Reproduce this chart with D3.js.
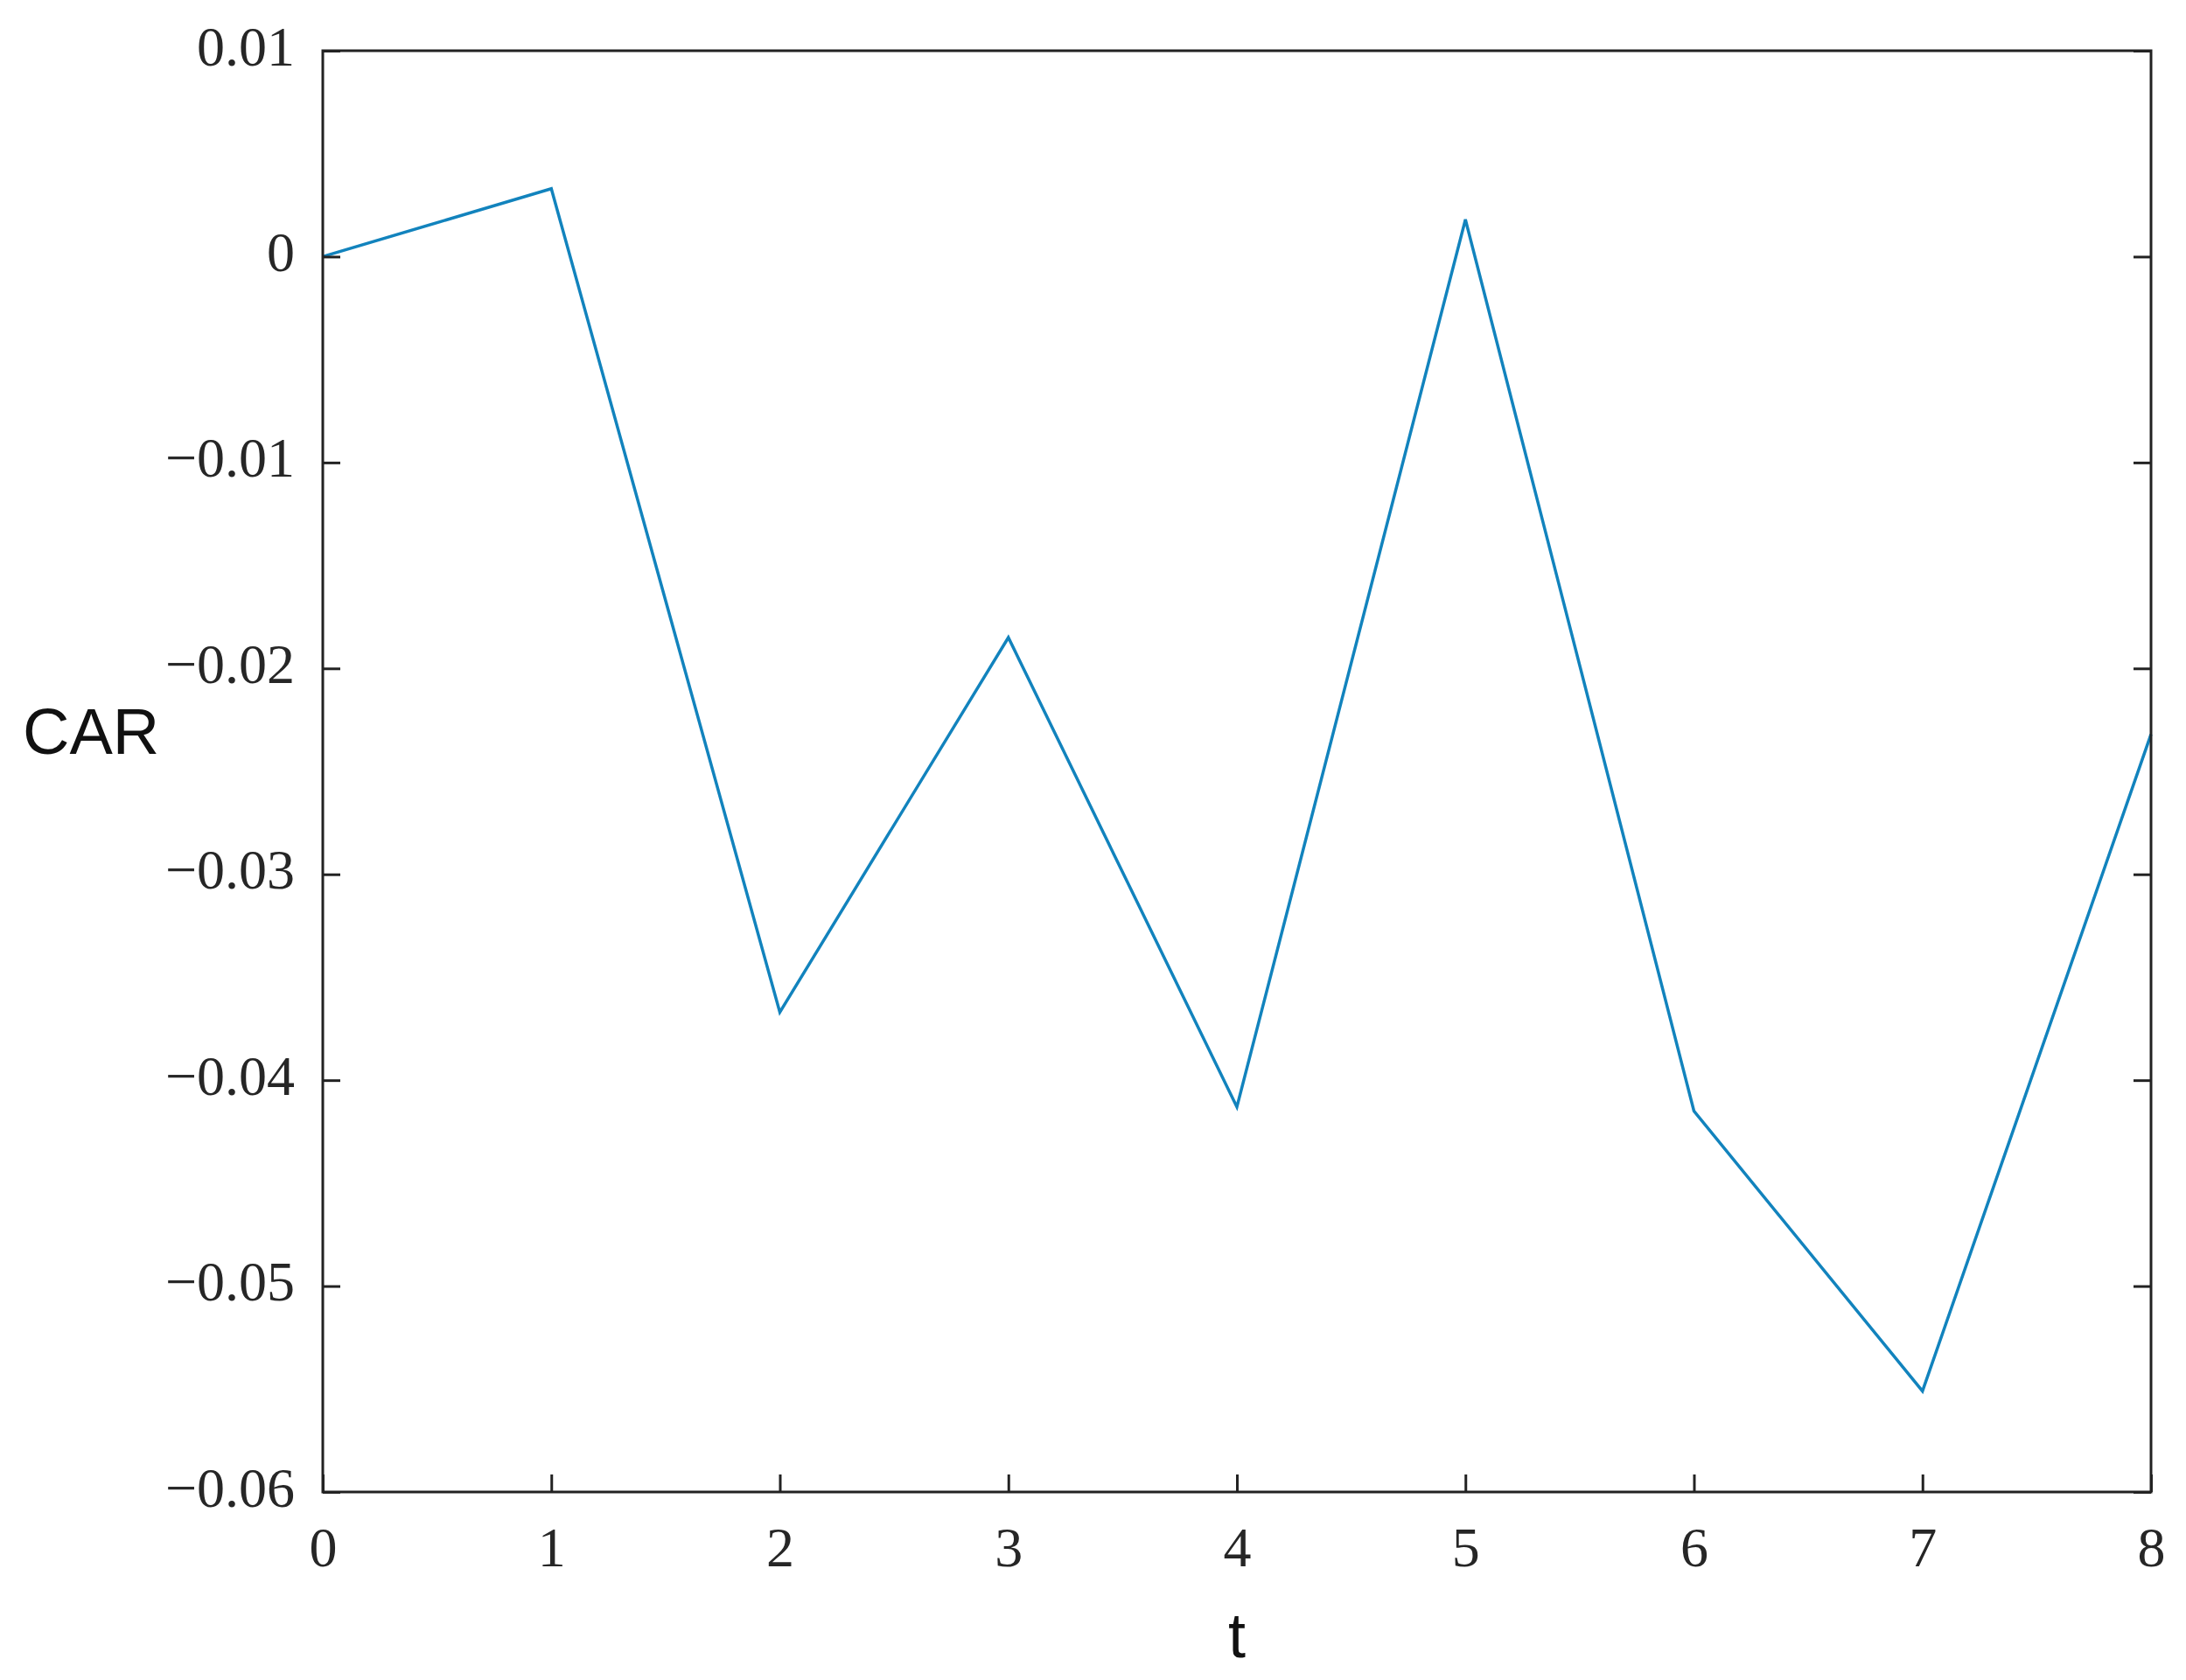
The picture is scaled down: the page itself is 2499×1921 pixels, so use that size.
<!DOCTYPE html>
<html><head><meta charset="utf-8">
<script src="https://cdn.jsdelivr.net/npm/d3@7"></script>
<style>body{margin:0;background:#fff}</style>
</head><body>
<svg id="c" width="2499" height="1921"></svg>
<script>
const tValues = [0, 1, 2, 3, 4, 5, 6, 7, 8];
const carValues = [0, 0.0033, -0.0367, -0.0185, -0.0413, 0.0018, -0.0415, -0.0551, -0.0232];
const yTicks = [0.01, 0, -0.01, -0.02, -0.03, -0.04, -0.05, -0.06];
const xTicks = [0, 1, 2, 3, 4, 5, 6, 7, 8];

const L = 369, R = 2459, T = 58, B = 1706;
const svg = d3.select('#c');
const x = d3.scaleLinear().domain([0, 8]).range([L, R]);
const y = d3.scaleLinear().domain([-0.06, 0.01]).range([B, T]);
const fmtY = d => d === 0 ? '0' : (d < 0 ? '\u2212' : '') + Math.abs(d).toFixed(2);
const serif = '"Liberation Serif","DejaVu Serif",serif';

// data line
const line = d3.line().x((d, i) => x(tValues[i])).y(d => y(d));
svg.append('path').datum(carValues).attr('d', line)
  .attr('fill', 'none').attr('stroke', '#1283bd').attr('stroke-width', 3.5);

// axes (ticks inward)
const gl = svg.append('g').attr('transform', `translate(${L},0)`)
  .call(d3.axisLeft(y).tickValues(yTicks).tickSize(-20).tickPadding(32).tickFormat(fmtY));
const gr = svg.append('g').attr('transform', `translate(${R},0)`)
  .call(d3.axisRight(y).tickValues(yTicks).tickSize(-20).tickFormat(''));
const gb = svg.append('g').attr('transform', `translate(0,${B})`)
  .call(d3.axisBottom(x).tickValues(xTicks).tickSize(-20).tickPadding(40).tickFormat(d3.format('d')));
[gl, gr, gb].forEach(g => {
  g.select('.domain').remove();
  g.selectAll('.tick line').attr('stroke', '#222').attr('stroke-width', 3);
  g.selectAll('text').attr('font-family', serif).attr('font-size', 64).attr('fill', '#262626');
});
gl.selectAll('text').attr('dy', '0.25em');
gb.selectAll('text').attr('dy', '0.71em');

// frame
svg.append('rect').attr('x', L).attr('y', T).attr('width', R - L).attr('height', B - T)
  .attr('fill', 'none').attr('stroke', '#222').attr('stroke-width', 3);

// axis labels
svg.append('text').attr('x', 26).attr('y', 862).text('CAR')
  .attr('font-family', '"Liberation Sans",Arial,sans-serif').attr('font-size', 74).attr('fill', '#111');
svg.append('text').attr('x', (L + R) / 2).attr('y', 1895).attr('text-anchor', 'middle').text('t')
  .attr('font-family', '"Liberation Sans",Arial,sans-serif').attr('font-size', 72).attr('fill', '#111');
</script>
</body></html>
